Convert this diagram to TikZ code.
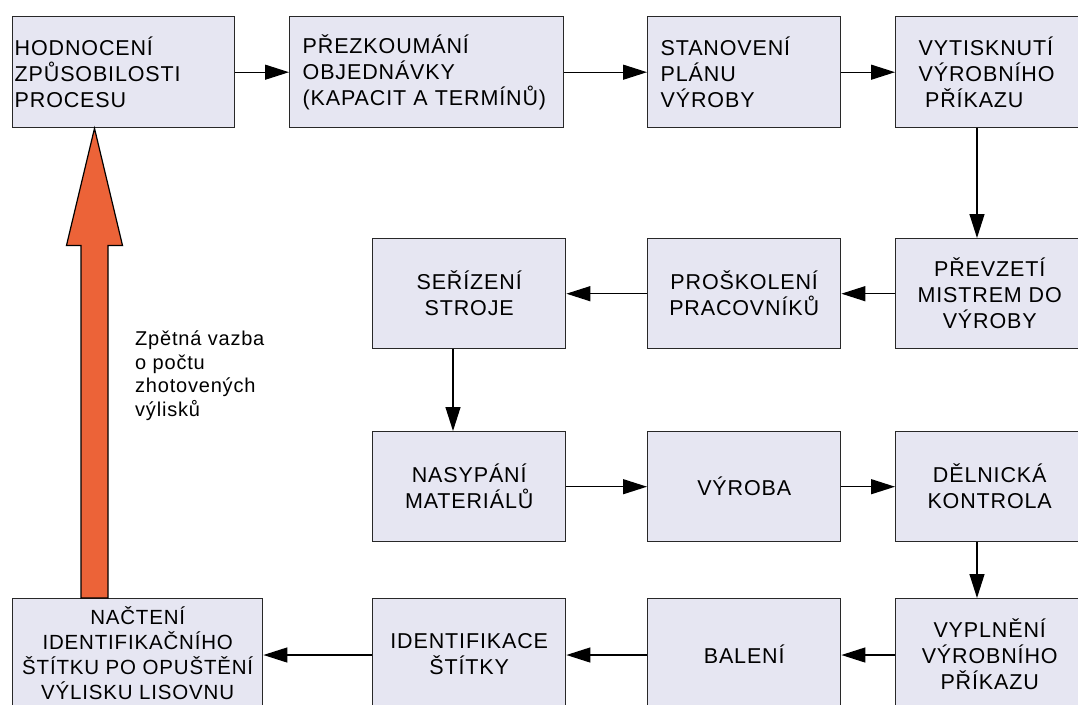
\documentclass[tikz,border=0pt]{standalone}
\usepackage{fontspec}
\setmainfont{Liberation Sans}[LetterSpace=4]
\usetikzlibrary{arrows.meta,calc}
\definecolor{boxfill}{RGB}{230,230,242}
\definecolor{fbcol}{RGB}{236,99,56}
\definecolor{edge}{RGB}{40,40,40}
\begin{document}
\begin{tikzpicture}[x=1pt,y=-1pt,
  box/.style={draw=edge, line width=1.4pt, fill=boxfill, anchor=north west,
    font=\fontsize{21.5}{26}\selectfont, inner ysep=0pt},
  cbox/.style={box, align=center, inner xsep=0pt},
  arr/.style={draw=black, line width=1.3pt, -{Triangle[length=24pt,width=15pt]}},
  fbarrow/.style={draw=black, line width=1.2pt, fill=fbcol, line join=miter},
  note/.style={anchor=north west, align=left, inner sep=0pt,
    font=\fontsize{20}{23.5}\selectfont}
]
\path[use as bounding box, clip] (0,0) rectangle (1078,704);

% row 1
\node[box, align=left, minimum width=222pt, minimum height=111pt, text width=218pt, inner xsep=2pt] (A) at (12,16)
  {HODNOCENÍ\\ZPŮSOBILOSTI\\PROCESU};
\node[box, align=left, minimum width=274pt, minimum height=111pt, text width=248pt, inner xsep=13pt] (B) at (289,16)
  {PŘEZKOUMÁNÍ\\OBJEDNÁVKY\\(KAPACIT A TERMÍNŮ)};
\node[box, align=left, minimum width=193pt, minimum height=111pt, text width=167pt, inner xsep=13pt] (C) at (647,16)
  {STANOVENÍ\\PLÁNU\\VÝROBY};
\node[box, align=left, minimum width=193pt, minimum height=111pt, text width=147pt, inner xsep=23pt] (D) at (895,16)
  {VYTISKNUTÍ\\VÝROBNÍHO\\\hspace*{0.3em}PŘÍKAZU};

% row 2
\node[cbox, minimum width=188pt, minimum height=110pt] (G) at (895,238)
  {PŘEVZETÍ\\MISTREM DO\\VÝROBY};
\node[cbox, minimum width=193pt, minimum height=110pt] (F) at (647,238)
  {PROŠKOLENÍ\\PRACOVNÍKŮ};
\node[cbox, minimum width=193pt, minimum height=110pt] (E) at (372,238)
  {SEŘÍZENÍ\\STROJE};

% row 3
\node[cbox, minimum width=193pt, minimum height=110pt] (H) at (372,431)
  {NASYPÁNÍ\\MATERIÁLŮ};
\node[cbox, minimum width=193pt, minimum height=110pt] (I) at (647,431)
  {VÝROBA};
\node[cbox, minimum width=188pt, minimum height=110pt] (J) at (895,431)
  {DĚLNICKÁ\\KONTROLA};

% row 4
\node[cbox, minimum width=188pt, minimum height=110pt] (N) at (895,598)
  {VYPLNĚNÍ\\VÝROBNÍHO\\PŘÍKAZU};
\node[cbox, minimum width=193pt, minimum height=110pt] (M) at (647,598)
  {BALENÍ};
\node[cbox, minimum width=193pt, minimum height=110pt] (L) at (372,598)
  {IDENTIFIKACE\\ŠTÍTKY};
\node[cbox, minimum width=250pt, minimum height=108pt, font=\fontsize{20.5}{25}\selectfont] (K) at (12,598)
  {NAČTENÍ\\IDENTIFIKAČNÍHO\\ŠTÍTKU PO OPUŠTĚNÍ\\VÝLISKU LISOVNU};

% connectors
\coordinate (xr) at (977,0);
\coordinate (xe) at (453,0);
\coordinate (yb) at (0,655);
\draw[arr] (A) -- (B);
\draw[arr] (B) -- (C);
\draw[arr] (C) -- (D);
\draw[arr] (D.south -| xr) -- (G.north -| xr);
\draw[arr] (G) -- (F);
\draw[arr] (F) -- (E);
\draw[arr] (E.south -| xe) -- (H.north -| xe);
\draw[arr] (H) -- (I);
\draw[arr] (I) -- (J);
\draw[arr] (J.south -| xr) -- (N.north -| xr);
\draw[arr] (N.west |- yb) -- (M.east |- yb);
\draw[arr] (M.west |- yb) -- (L.east |- yb);
\draw[arr] (L.west |- yb) -- (K.east |- yb);

% feedback arrow
\coordinate (xf) at (94.5,0);
\coordinate (tip) at (A.south -| xf);
\coordinate (base) at (K.north -| xf);
\draw[fbarrow] ($(base)+(-13.5,0)$) -- ($(tip)+(-13.5,117)$) -- ($(tip)+(-28,117)$)
  -- (tip) -- ($(tip)+(28,117)$) -- ($(tip)+(13.5,117)$) -- ($(base)+(13.5,0)$) -- cycle;

\node[note] (fbtext) at (135,331) {Zpětná vazba\\o počtu\\zhotovených\\výlisků};
\end{tikzpicture}
\end{document}
